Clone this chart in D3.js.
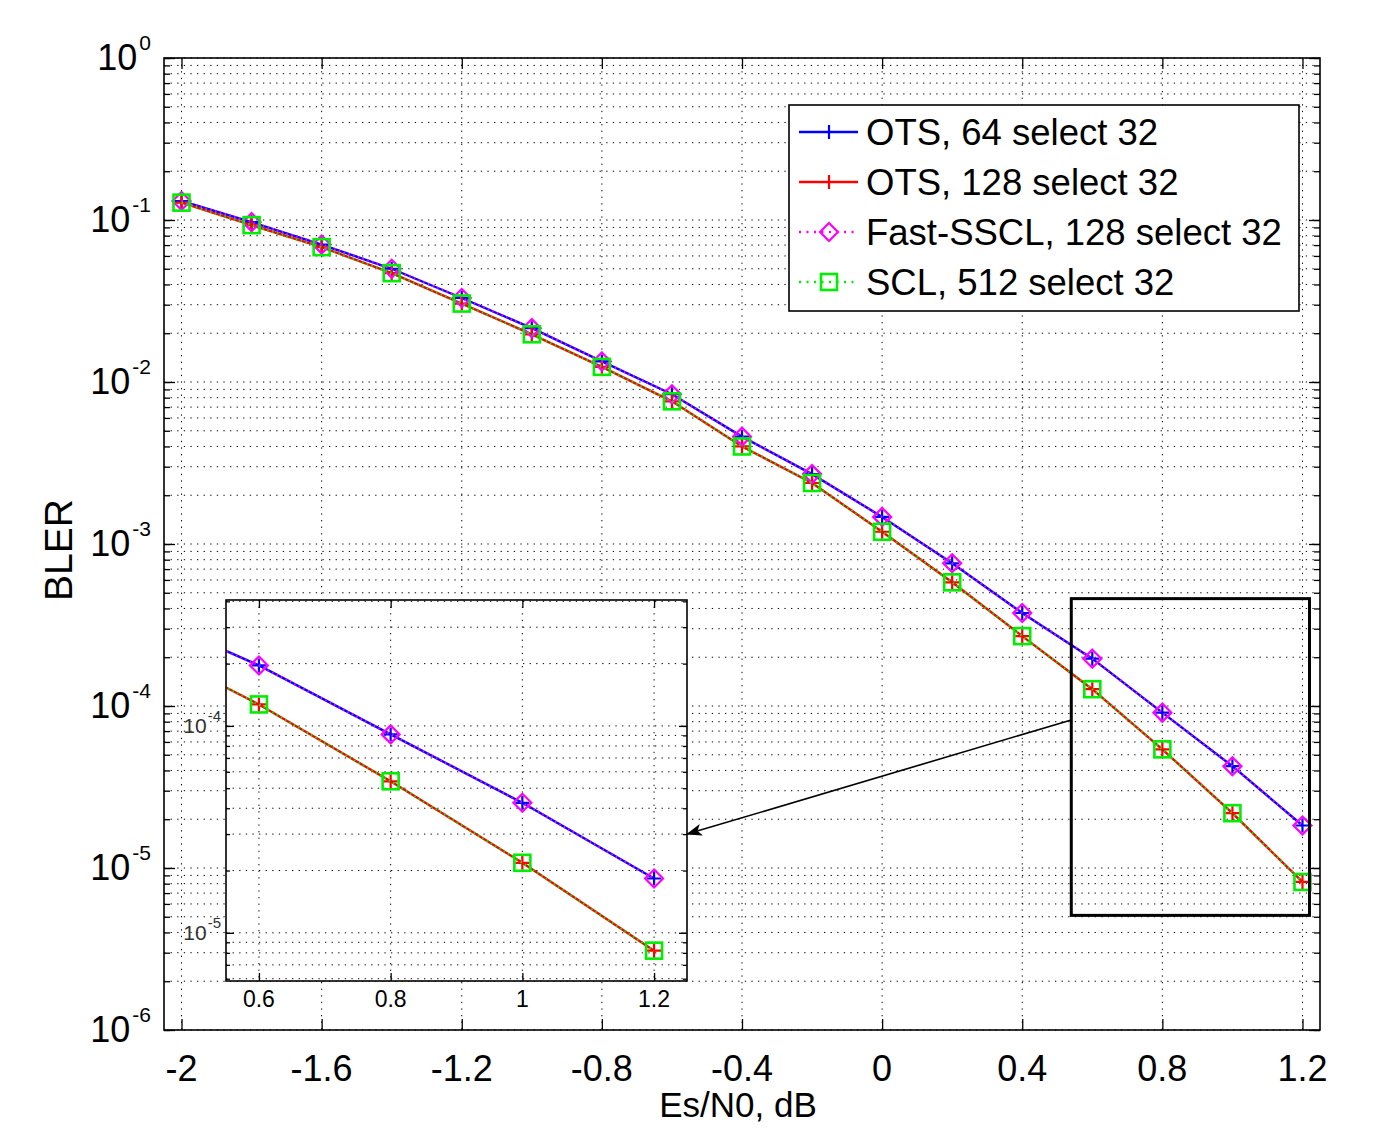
<!DOCTYPE html>
<html>
<head>
<meta charset="utf-8">
<script src="https://cdn.jsdelivr.net/npm/d3@7"></script>
<style>
  body { margin: 0; background: #fff; }
  svg { font-family: "Liberation Sans", Arial, sans-serif; }
  .grid { stroke: #000; stroke-width: 1; stroke-dasharray: 1.3 5.3; fill: none; }
</style>
</head>
<body>
<div class="container"></div>
<script>
// ---- data ----
const snr = [-2, -1.8, -1.6, -1.4, -1.2, -1.0, -0.8, -0.6, -0.4, -0.2, 0, 0.2, 0.4, 0.6, 0.8, 1.0, 1.2];
const ots64 = [0.131, 0.097, 0.0705, 0.050, 0.033, 0.0215, 0.0134, 0.0084, 0.0046, 0.0027, 0.00147,
  7.6e-4, 3.75e-4, 1.96e-4, 9.1e-5, 4.25e-5, 1.83e-5];
const ots128 = [0.128, 0.093, 0.068, 0.047, 0.0305, 0.0197, 0.0124, 0.0076, 0.0040, 0.00238, 0.00119,
  5.8e-4, 2.7e-4, 1.27e-4, 5.4e-5, 2.18e-5, 8.2e-6];
const fastSscl = [0.131, 0.097, 0.0705, 0.050, 0.033, 0.0215, 0.0134, 0.0084, 0.0046, 0.0027, 0.00147,
  7.6e-4, 3.75e-4, 1.96e-4, 9.1e-5, 4.25e-5, 1.83e-5];
const scl = [0.128, 0.093, 0.068, 0.047, 0.0305, 0.0197, 0.0124, 0.0076, 0.0040, 0.00238, 0.00119,
  5.8e-4, 2.7e-4, 1.27e-4, 5.4e-5, 2.18e-5, 8.2e-6];
const seriesNames = ['OTS, 64 select 32', 'OTS, 128 select 32', 'Fast-SSCL, 128 select 32', 'SCL, 512 select 32'];

const xTicks = [-2, -1.6, -1.2, -0.8, -0.4, 0, 0.4, 0.8, 1.2];
const xTickLabels = ['-2', '-1.6', '-1.2', '-0.8', '-0.4', '0', '0.4', '0.8', '1.2'];
const yExponents = [0, -1, -2, -3, -4, -5, -6];
const insetXTicks = [0.6, 0.8, 1.0, 1.2];
const insetXTickLabels = ['0.6', '0.8', '1', '1.2'];
const insetYExponents = [-4, -5];
const zoomBoxX = [0.54, 1.22];
const zoomBoxY = [5.1e-6, 4.6e-4];
const arrowFrom = [0.54, 8.2e-5];   // main axes coords
const arrowTo = [1.25, 3.0e-5];     // inset axes coords

// ---- layout ----
const WIDTH = 1393, HEIGHT = 1138;
const MAIN = {left: 164, top: 58, width: 1156, height: 972};
const INSET = {left: 226, top: 600, width: 461, height: 381};

const series = [
  {name: seriesNames[0], values: ots64, color: '#0000ff', dash: null, marker: 'plus'},
  {name: seriesNames[1], values: ots128, color: '#ff0000', dash: null, marker: 'plus'},
  {name: seriesNames[2], values: fastSscl, color: '#ff00ff', dash: '1.5 3.5', marker: 'diamond'},
  {name: seriesNames[3], values: scl, color: '#00ee00', dash: '1.5 3.5', marker: 'square'}
];

var translate = function (x, y) { return 'translate(' + x + ',' + y + ')'; };

var svg = d3.select('.container').append('svg')
  .attr('width', WIDTH).attr('height', HEIGHT);

svg.append('defs').append('marker')
  .attr('id', 'arrowhead')
  .attr('viewBox', '0 -6 16 12')
  .attr('refX', 15).attr('refY', 0)
  .attr('markerWidth', 16).attr('markerHeight', 12)
  .attr('markerUnits', 'userSpaceOnUse')
  .attr('orient', 'auto')
  .append('path')
  .attr('d', 'M0,-6L16,0L0,6L4,0Z')
  .attr('fill', '#000');

var logGridValues = function (domain) {
  var vals = [];
  for (var e = -7; e <= 0; e++) {
    for (var m = 1; m <= 9; m++) {
      var v = m * Math.pow(10, e);
      if (v >= domain[0] * 0.9999 && v <= domain[1] * 1.0001) vals.push(v);
    }
  }
  return vals;
};

var drawMarker = function (sel, type, color) {
  if (type === 'plus') {
    sel.append('path').attr('d', 'M-7,0H7M0,-7V7')
      .attr('stroke', color).attr('stroke-width', 2.2).attr('fill', 'none');
  } else if (type === 'diamond') {
    sel.append('path').attr('d', 'M0,-9L9,0L0,9L-9,0Z')
      .attr('stroke', color).attr('stroke-width', 2.2).attr('fill', 'none');
  } else {
    sel.append('rect').attr('x', -8).attr('y', -8).attr('width', 16).attr('height', 16)
      .attr('stroke', color).attr('stroke-width', 2.6).attr('fill', 'none');
  }
};

// draws grid, series, box and ticks for one set of axes
var drawAxes = function (box, xs, ys, xt, opts) {
  var g = svg.append('g').attr('transform', translate(box.left, box.top));
  var w = box.width, h = box.height;
  if (opts.background) {
    g.append('rect').attr('width', w).attr('height', h).attr('fill', '#fff');
  }
  var yVals = logGridValues(ys.domain());
  g.selectAll('.hgrid').data(yVals).enter().append('line')
    .attr('class', 'grid')
    .attr('x1', 0).attr('x2', w)
    .attr('y1', function (d) { return ys(d); }).attr('y2', function (d) { return ys(d); });
  g.selectAll('.vgrid').data(xt).enter().append('line')
    .attr('class', 'grid')
    .attr('y1', 0).attr('y2', h)
    .attr('x1', function (d) { return xs(d); }).attr('x2', function (d) { return xs(d); });

  var clipId = 'clip' + opts.id;
  g.append('clipPath').attr('id', clipId).append('rect').attr('width', w).attr('height', h);
  var plot = g.append('g').attr('clip-path', 'url(#' + clipId + ')');
  var line = d3.line()
    .x(function (d, i) { return xs(snr[i]); })
    .y(function (d) { return ys(d); });
  series.forEach(function (s) {
    var p = plot.append('path').attr('d', line(s.values))
      .attr('fill', 'none').attr('stroke', s.color).attr('stroke-width', 2.4);
    if (s.dash) p.attr('stroke-dasharray', s.dash);
    s.values.forEach(function (v, i) {
      var m = plot.append('g').attr('transform', translate(xs(snr[i]), ys(v)));
      drawMarker(m, s.marker, s.color);
    });
  });

  // ticks via d3 axes, pointing inward
  var major = opts.majorTick, minor = opts.minorTick;
  var yMajor = yVals.filter(function (v) { return Math.abs(Math.log10(v) - Math.round(Math.log10(v))) < 1e-9; });
  var addAxis = function (axis, tf) {
    var a = g.append('g').attr('transform', tf).call(axis);
    a.selectAll('text').remove();
    a.select('.domain').remove();
    a.selectAll('line').attr('stroke', '#000').attr('stroke-width', 1.3);
  };
  addAxis(d3.axisBottom(xs).tickValues(xt).tickSize(-major), translate(0, h));
  addAxis(d3.axisTop(xs).tickValues(xt).tickSize(-major), translate(0, 0));
  addAxis(d3.axisLeft(ys).tickValues(yVals).tickSize(-minor), translate(0, 0));
  addAxis(d3.axisRight(ys).tickValues(yVals).tickSize(-minor), translate(w, 0));
  addAxis(d3.axisLeft(ys).tickValues(yMajor).tickSize(-major), translate(0, 0));
  addAxis(d3.axisRight(ys).tickValues(yMajor).tickSize(-major), translate(w, 0));

  g.append('rect').attr('width', w).attr('height', h)
    .attr('fill', 'none').attr('stroke', '#000').attr('stroke-width', 1.6);
  return g;
};

// ---- main axes ----
var xMain = d3.scaleLinear().domain([-2.05, 1.25]).range([0, MAIN.width]);
var yMain = d3.scaleLog().domain([1e-6, 1]).range([MAIN.height, 0]);
var gMain = drawAxes(MAIN, xMain, yMain, xTicks, {id: 'main', majorTick: 11, minorTick: 6});

gMain.selectAll('.xlab').data(xTicks).enter().append('text')
  .attr('x', function (d) { return xMain(d); })
  .attr('y', MAIN.height + 51)
  .attr('text-anchor', 'middle')
  .attr('font-size', 36)
  .text(function (d, i) { return xTickLabels[i]; });

var ylab = gMain.selectAll('.ylab').data(yExponents).enter().append('text')
  .attr('x', -13)
  .attr('y', function (d) { return yMain(Math.pow(10, d)) + 12; })
  .attr('text-anchor', 'end')
  .attr('font-size', 36);
ylab.append('tspan').text('10');
ylab.append('tspan').attr('dy', -20).attr('dx', 2).attr('font-size', 21).text(function (d) { return String(d); });

gMain.append('text')
  .attr('x', MAIN.width / 2 - 4).attr('y', MAIN.height + 87)
  .attr('text-anchor', 'middle').attr('font-size', 35)
  .text('Es/N0, dB');
gMain.append('text')
  .attr('transform', translate(-92, MAIN.height / 2 + 6) + ' rotate(-90)')
  .attr('text-anchor', 'middle').attr('font-size', 39)
  .text('BLER');

// zoom rectangle
gMain.append('rect')
  .attr('x', xMain(zoomBoxX[0])).attr('y', yMain(zoomBoxY[1]))
  .attr('width', xMain(zoomBoxX[1]) - xMain(zoomBoxX[0]))
  .attr('height', yMain(zoomBoxY[0]) - yMain(zoomBoxY[1]))
  .attr('fill', 'none').attr('stroke', '#000').attr('stroke-width', 3);

// legend
var legend = svg.append('g').attr('transform', translate(789, 105));
legend.append('rect').attr('width', 510).attr('height', 206)
  .attr('fill', '#fff').attr('stroke', '#000').attr('stroke-width', 1.6);
series.forEach(function (s, i) {
  var row = legend.append('g').attr('transform', translate(0, 27 + i * 50));
  var l = row.append('line').attr('x1', 10).attr('x2', 69)
    .attr('stroke', s.color).attr('stroke-width', 2.4);
  if (s.dash) l.attr('stroke-dasharray', '2 5.5');
  drawMarker(row.append('g').attr('transform', translate(40, 0)), s.marker, s.color);
  row.append('text').attr('x', 77).attr('y', 13).attr('font-size', 36.5).text(s.name);
});

// ---- inset ----
var xIn = d3.scaleLinear().domain([0.55, 1.25]).range([0, INSET.width]);
var yIn = d3.scaleLog().domain([5.85e-6, 4.06e-4]).range([INSET.height, 0]);
var gIn = drawAxes(INSET, xIn, yIn, insetXTicks, {id: 'inset', background: true, majorTick: 8, minorTick: 4});

gIn.selectAll('.xlab').data(insetXTicks).enter().append('text')
  .attr('x', function (d) { return xIn(d); })
  .attr('y', INSET.height + 26)
  .attr('text-anchor', 'middle').attr('font-size', 23)
  .text(function (d, i) { return insetXTickLabels[i]; });

var ylabIn = gIn.selectAll('.ylab').data(insetYExponents).enter().append('text')
  .attr('x', -5)
  .attr('y', function (d) { return yIn(Math.pow(10, d)) + 7; })
  .attr('text-anchor', 'end').attr('font-size', 21).attr('fill', '#333');
ylabIn.append('tspan').text('10');
ylabIn.append('tspan').attr('dy', -12).attr('dx', 1).attr('font-size', 15).text(function (d) { return String(d); });

// arrow from zoom box to inset
svg.append('line')
  .attr('x1', MAIN.left + xMain(arrowFrom[0])).attr('y1', MAIN.top + yMain(arrowFrom[1]))
  .attr('x2', INSET.left + xIn(arrowTo[0])).attr('y2', INSET.top + yIn(arrowTo[1]))
  .attr('stroke', '#000').attr('stroke-width', 1.6)
  .attr('marker-end', 'url(#arrowhead)');
</script>
</body>
</html>
